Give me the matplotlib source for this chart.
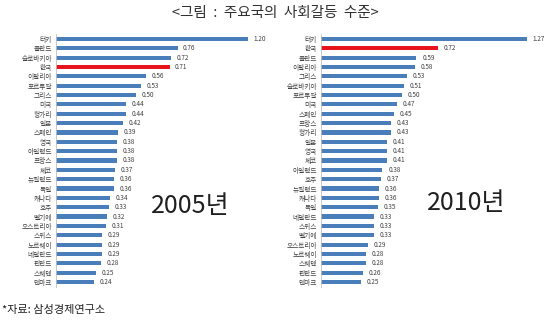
import matplotlib.pyplot as plt

plt.rcParams['font.family'] = ['Noto Sans CJK KR', 'DejaVu Sans']

# 2005년 사회갈등 지수
countries_2005 = ['터키', '폴란드', '슬로바키아', '한국', '이탈리아', '포르투갈', '그리스', '미국',
                  '헝가리', '일본', '스페인', '영국', '아일랜드', '프랑스', '체코', '뉴질랜드',
                  '독일', '캐나다', '호주', '벨기에', '오스트리아', '스위스', '노르웨이',
                  '네덜란드', '핀란드', '스웨덴', '덴마크']
values_2005 = [1.20, 0.76, 0.72, 0.71, 0.56, 0.53, 0.50, 0.44, 0.44, 0.42, 0.39, 0.38, 0.38,
               0.38, 0.37, 0.36, 0.36, 0.34, 0.33, 0.32, 0.31, 0.29, 0.29, 0.29, 0.28, 0.25, 0.24]

# 2010년 사회갈등 지수
countries_2010 = ['터키', '한국', '폴란드', '이탈리아', '그리스', '슬로바키아', '포르투갈', '미국',
                  '스페인', '프랑스', '헝가리', '일본', '영국', '체코', '아일랜드', '호주',
                  '뉴질랜드', '캐나다', '독일', '네덜란드', '스위스', '벨기에', '오스트리아',
                  '노르웨이', '스웨덴', '핀란드', '덴마크']
values_2010 = [1.27, 0.72, 0.59, 0.58, 0.53, 0.51, 0.50, 0.47, 0.45, 0.43, 0.43, 0.41, 0.41,
               0.41, 0.38, 0.37, 0.36, 0.36, 0.35, 0.33, 0.33, 0.33, 0.29, 0.28, 0.28, 0.26, 0.25]

BLUE = '#4A7EBB'
RED = '#E8141B'

fig = plt.figure(figsize=(5.5, 3.22), dpi=100)
fig.patch.set_facecolor('white')


def draw_panel(ax, names, vals):
    n = len(names)
    y = list(range(n))
    colors = [RED if c == '한국' else BLUE for c in names]
    ax.barh(y, vals, height=0.45, color=colors)
    for yi, v in zip(y, vals):
        ax.text(v + 0.035, yi, f'{v:.2f}', va='center', ha='left',
                fontsize=4.6, color='#404040', clip_on=False)
    ax.set_yticks(y)
    ax.set_yticklabels(names, fontsize=4.8, color='#404040')
    ax.tick_params(axis='y', length=0, pad=3)
    ax.set_ylim(n - 0.5, -0.5)
    ax.set_xlim(0, 1.4)
    ax.set_xticks([])
    for s in ['top', 'right', 'bottom']:
        ax.spines[s].set_visible(False)
    ax.spines['left'].set_color('#BFBFBF')
    ax.spines['left'].set_linewidth(0.6)
    ax.patch.set_alpha(0)


ax1 = fig.add_axes([0.1018, 0.1096, 0.407, 0.784])
draw_panel(ax1, countries_2005, values_2005)

ax2 = fig.add_axes([0.5836, 0.1096, 0.412, 0.784])
draw_panel(ax2, countries_2010, values_2010)

fig.text(0.5, 0.96, '<그림  :  주요국의  사회갈등  수준>', ha='center', va='center',
         fontsize=10.5, color='#303030', fontweight='light')
fig.text(190 / 550, 1 - 206 / 322, '2005년', ha='center', va='center',
         fontsize=18, color='#202020', fontweight='light')
fig.text(466 / 550, 1 - 203 / 322, '2010년', ha='center', va='center',
         fontsize=18, color='#202020', fontweight='light')
fig.text(0.004, 1 - 310 / 322, '*자료: 삼성경제연구소', ha='left', va='center',
         fontsize=8, color='#202020')

fig.savefig('out.png', dpi=100)
